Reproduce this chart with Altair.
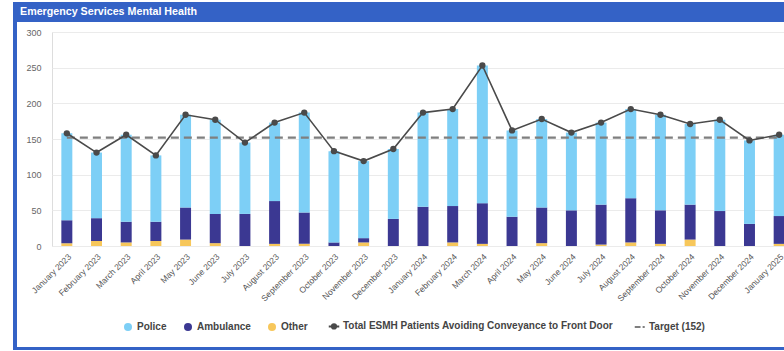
import altair as alt
import pandas as pd

months = ["January 2023", "February 2023", "March 2023", "April 2023", "May 2023", "June 2023",
          "July 2023", "August 2023", "September 2023", "October 2023", "November 2023", "December 2023",
          "January 2024", "February 2024", "March 2024", "April 2024", "May 2024", "June 2024",
          "July 2024", "August 2024", "September 2024", "October 2024", "November 2024", "December 2024",
          "January 2025"]
police = [122, 92, 122, 93, 130, 132, 100, 110, 140, 128, 108, 98, 132, 136, 193, 121, 124, 109, 115, 125, 134, 113, 128, 117, 114]
ambulance = [32, 32, 29, 27, 45, 41, 45, 60, 44, 5, 6, 38, 55, 51, 57, 41, 50, 50, 56, 62, 47, 49, 49, 31, 39]
other = [4, 7, 5, 7, 9, 4, 0, 3, 3, 0, 5, 0, 0, 5, 3, 0, 4, 0, 2, 5, 3, 9, 0, 0, 3]
total = [158, 131, 156, 127, 184, 177, 145, 173, 187, 133, 119, 136, 187, 192, 253, 162, 178, 159, 173, 192, 184, 171, 177, 148, 156]
target = 152
y_ticks = [0, 50, 100, 150, 200, 250, 300]

series_names = ["Police", "Ambulance", "Other",
                "Total ESMH Patients Avoiding Conveyance to Front Door", "Target (152)"]
series_colors = ["#7DCFF6", "#3B3892", "#F7C75B", "#4A4A4A", "#7F7F7F"]
title_text = "Emergency Services Mental Health"

rows = []
for i, m in enumerate(months):
    for s, vals, o in [("Other", other, 0), ("Ambulance", ambulance, 1), ("Police", police, 2)]:
        rows.append({"month": m, "series": s, "value": vals[i], "ord": o})
bars_df = pd.DataFrame(rows)
total_df = pd.DataFrame({"month": months, "value": total, "series": series_names[3]})
target_df = pd.DataFrame({"month": months, "value": [target] * len(months), "series": series_names[4]})
deco_df = pd.DataFrame({"k": [0]})

W, H = 732, 214
FONT = "Liberation Sans"
HEADER = "#3462C6"

x_scale = alt.Scale(domain=months, range=[0, 742], paddingInner=0.63, paddingOuter=0.315)
y_scale = alt.Scale(domain=[0, 300], nice=False)

tot, tgt = series_names[3], series_names[4]
is_line = f"(datum.value === '{tot}' || datum.value === '{tgt}')"
shape_expr = (f"datum.value === '{tot}' ? 'M-1,0L1,0M-0.4,0A0.4,0.4,0,1,1,0.4,0A0.4,0.4,0,1,1,-0.4,0Z' : "
              f"(datum.value === '{tgt}' ? 'M-1,0L0.1,0M0.5,0L0.9,0' : 'circle')")
color_expr = ("datum.value === 'Police' ? '#7DCFF6' : datum.value === 'Ambulance' ? '#3B3892' : "
              "datum.value === 'Other' ? '#F7C75B' : datum.value === 'Target (152)' ? '#7F7F7F' : '#4A4A4A'")
legend = alt.Legend(
    title=None, orient="none", legendX=71, legendY=289, direction="horizontal", columns=5,
    labelFont=FONT, labelFontSize=10, labelFontWeight="bold", labelColor="#444", labelLimit=400,
    columnPadding=16, labelOffset=4, padding=0,
    symbolType={"expr": shape_expr},
    symbolSize={"expr": f"{is_line} ? 110 : 64"},
    symbolStrokeWidth={"expr": f"{is_line} ? 2 : 0"},
    symbolFillColor={"expr": color_expr},
    symbolStrokeColor={"expr": color_expr},
    symbolOpacity=1,
)
color = alt.Color("series:N", scale=alt.Scale(domain=series_names, range=series_colors), legend=legend)

x_axis = alt.Axis(labelAngle=-45, labelAlign="right", labelBaseline="top",
                  labelFontSize=8.5, labelColor="#555", labelFont=FONT,
                  labelPadding=6, ticks=False, domain=False, grid=False)
y_axis = alt.Axis(values=y_ticks, labelFontSize=9, labelColor="#666", labelOverlap=False,
                  labelFont=FONT, labelPadding=11, ticks=False, domain=False,
                  gridColor="#EBEBEB", gridWidth=1)

x_enc = alt.X("month:N", scale=x_scale, sort=months, title=None, axis=x_axis)

bars = alt.Chart(bars_df).mark_bar().encode(
    x=x_enc,
    y=alt.Y("value:Q", stack="zero", scale=y_scale, axis=y_axis, title=None),
    color=color,
    order=alt.Order("ord:Q"),
)

target_line = alt.Chart(target_df).mark_line(strokeDash=[8, 5], strokeWidth=2.2).encode(
    x=x_enc,
    y=alt.Y("value:Q", scale=y_scale, axis=y_axis, title=None),
    color=color,
)

total_line = alt.Chart(total_df).mark_line(strokeWidth=1.6, point=alt.OverlayMarkDef(filled=True, size=40, color="#3C3C3C")).encode(
    x=x_enc,
    y=alt.Y("value:Q", scale=y_scale, axis=y_axis, title=None),
    color=color,
)

header = alt.Chart(deco_df).mark_rect(color=HEADER).encode(
    x=alt.value(-39), x2=alt.value(745), y=alt.value(-30), y2=alt.value(-10))
left_border = alt.Chart(deco_df).mark_rect(color=HEADER).encode(
    x=alt.value(-39), x2=alt.value(-35), y=alt.value(-30), y2=alt.value(318))
bottom_border = alt.Chart(deco_df).mark_rect(color=HEADER).encode(
    x=alt.value(-39), x2=alt.value(745), y=alt.value(315), y2=alt.value(318))
title = alt.Chart(deco_df).mark_text(text=title_text, align="left", baseline="middle", font=FONT,
                                      fontSize=10.7, fontWeight="bold", color="white").encode(
    x=alt.value(-32), y=alt.value(-20))

chart = alt.layer(header, left_border, bottom_border, title, bars, target_line, total_line).properties(
    width=W, height=H,
    autosize=alt.AutoSizeParams(type="none"),
    padding={"left": 52, "top": 32, "right": 0, "bottom": 105},
).configure_view(stroke=None).configure(background="white")

chart.save("out.html", embed_options={"renderer": "svg", "actions": False})
